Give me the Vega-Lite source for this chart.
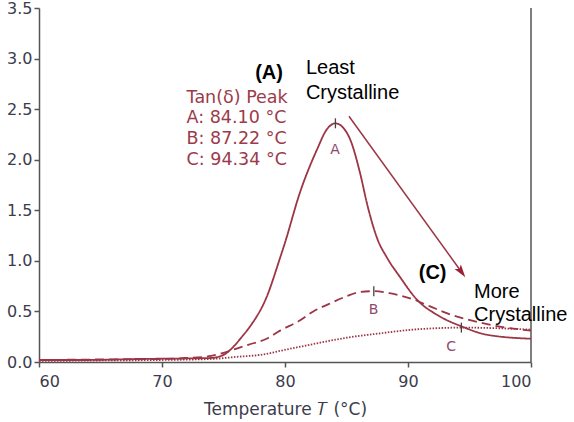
{
  "$schema": "https://vega.github.io/schema/vega-lite/v6.json",
  "width": 492,
  "height": 354,
  "autosize": {"type": "none"},
  "padding": {"left": 39, "top": 8, "right": 43, "bottom": 60},
  "background": "white",
  "config": {
    "view": {"stroke": null},
    "axis": {
      "grid": false,
      "domainColor": "#555555",
      "domainWidth": 1.5,
      "tickColor": "#555555",
      "tickWidth": 1.5,
      "tickSize": 5,
      "labelColor": "#3c3c4c",
      "labelFont": "DejaVu Sans",
      "labelFontSize": 16,
      "titleColor": "#3c3c4c",
      "titleFont": "DejaVu Sans",
      "titleFontSize": 17,
      "titleFontWeight": "normal"
    }
  },
  "datasets": {
    "curves": [
      {"T": 60, "v": 0.02, "s": "A"}, {"T": 64, "v": 0.02, "s": "A"}, {"T": 68, "v": 0.03, "s": "A"},
      {"T": 72, "v": 0.035, "s": "A"}, {"T": 74, "v": 0.04, "s": "A"}, {"T": 75, "v": 0.07, "s": "A"},
      {"T": 75.8, "v": 0.15, "s": "A"}, {"T": 76.5, "v": 0.25, "s": "A"}, {"T": 77.15, "v": 0.35, "s": "A"},
      {"T": 78.5, "v": 0.64, "s": "A"}, {"T": 79.6, "v": 1.03, "s": "A"}, {"T": 80.0, "v": 1.18, "s": "A"},
      {"T": 81.2, "v": 1.67, "s": "A"}, {"T": 82.6, "v": 2.10, "s": "A"}, {"T": 83.4, "v": 2.30, "s": "A"},
      {"T": 84.1, "v": 2.36, "s": "A"}, {"T": 84.7, "v": 2.32, "s": "A"}, {"T": 85.3, "v": 2.20, "s": "A"},
      {"T": 86.1, "v": 1.87, "s": "A"}, {"T": 86.7, "v": 1.55, "s": "A"}, {"T": 87.5, "v": 1.22, "s": "A"},
      {"T": 88.3, "v": 1.03, "s": "A"}, {"T": 89.35, "v": 0.84, "s": "A"}, {"T": 90.7, "v": 0.62, "s": "A"},
      {"T": 92.6, "v": 0.45, "s": "A"}, {"T": 94.4, "v": 0.35, "s": "A"}, {"T": 96.4, "v": 0.27, "s": "A"},
      {"T": 100, "v": 0.23, "s": "A"},
      {"T": 60, "v": 0.02, "s": "B"}, {"T": 65, "v": 0.025, "s": "B"}, {"T": 70, "v": 0.03, "s": "B"},
      {"T": 72, "v": 0.04, "s": "B"}, {"T": 74, "v": 0.06, "s": "B"}, {"T": 74.7, "v": 0.08, "s": "B"},
      {"T": 76, "v": 0.13, "s": "B"}, {"T": 77, "v": 0.17, "s": "B"}, {"T": 78.5, "v": 0.23, "s": "B"},
      {"T": 79.6, "v": 0.31, "s": "B"}, {"T": 81.2, "v": 0.41, "s": "B"}, {"T": 82.3, "v": 0.50, "s": "B"},
      {"T": 83.5, "v": 0.57, "s": "B"}, {"T": 85.0, "v": 0.65, "s": "B"}, {"T": 86, "v": 0.69, "s": "B"},
      {"T": 87.22, "v": 0.70, "s": "B"}, {"T": 88.5, "v": 0.68, "s": "B"}, {"T": 90.4, "v": 0.62, "s": "B"},
      {"T": 91.8, "v": 0.55, "s": "B"}, {"T": 93.2, "v": 0.48, "s": "B"}, {"T": 95.85, "v": 0.39, "s": "B"},
      {"T": 98, "v": 0.34, "s": "B"}, {"T": 100, "v": 0.31, "s": "B"},
      {"T": 60, "v": 0.01, "s": "C"}, {"T": 65, "v": 0.015, "s": "C"}, {"T": 70, "v": 0.02, "s": "C"},
      {"T": 74, "v": 0.03, "s": "C"}, {"T": 76, "v": 0.05, "s": "C"}, {"T": 78.5, "v": 0.08, "s": "C"},
      {"T": 79.6, "v": 0.11, "s": "C"}, {"T": 82, "v": 0.17, "s": "C"}, {"T": 85.0, "v": 0.24, "s": "C"},
      {"T": 87.5, "v": 0.28, "s": "C"}, {"T": 90.4, "v": 0.32, "s": "C"}, {"T": 92.5, "v": 0.335, "s": "C"},
      {"T": 94.34, "v": 0.34, "s": "C"}, {"T": 97, "v": 0.335, "s": "C"}, {"T": 100, "v": 0.32, "s": "C"}
    ],
    "peaks": [
      {"T": 84.1, "v": 2.36}, {"T": 87.22, "v": 0.70}, {"T": 94.34, "v": 0.34}
    ],
    "curveLabels": [
      {"T": 84.07, "v": 2.10, "text": "A"}, {"T": 87.2, "v": 0.51, "text": "B"}, {"T": 93.5, "v": 0.15, "text": "C"}
    ],
    "legendText": [
      {"T": 72.0, "v": 2.61, "text": "Tan(δ) Peak"},
      {"T": 72.0, "v": 2.41, "text": "A: 84.10 °C"},
      {"T": 72.0, "v": 2.20, "text": "B: 87.22 °C"},
      {"T": 72.0, "v": 2.00, "text": "C: 94.34 °C"}
    ],
    "boldText": [
      {"T": 78.7, "v": 2.86, "text": "(A)"}, {"T": 92.0, "v": 0.88, "text": "(C)"}
    ],
    "plainText": [
      {"T": 81.7, "v": 2.91, "text": "Least"}, {"T": 81.7, "v": 2.66, "text": "Crystalline"},
      {"T": 95.37, "v": 0.69, "text": "More"}, {"T": 95.37, "v": 0.46, "text": "Crystalline"}
    ],
    "arrow": [
      {"T": 85.2, "v": 2.43}, {"T": 94.35, "v": 0.89}
    ],
    "arrowHead": [
      {"T": 94.35, "v": 0.89}
    ],
    "border": [{"T": 100}]
  },
  "layer": [
    {
      "data": {"name": "border"},
      "mark": {"type": "rule", "color": "#555555", "strokeWidth": 1.5},
      "encoding": {
        "x": {"field": "T", "type": "quantitative", "scale": {"domain": [60, 100]}}
      }
    },
    {
      "data": {"name": "curves"},
      "mark": {"type": "line", "interpolate": "monotone", "color": "#9c3545", "strokeWidth": 1.8},
      "encoding": {
        "x": {
          "field": "T", "type": "quantitative",
          "scale": {"domain": [60, 100], "nice": false},
          "axis": {"values": [60, 70, 80, 90, 100], "title": "Temperature 𝑇 (°C)", "labelPadding": 6, "titlePadding": 12}
        },
        "y": {
          "field": "v", "type": "quantitative",
          "scale": {"domain": [0, 3.5], "nice": false},
          "axis": {"values": [0, 0.5, 1, 1.5, 2, 2.5, 3, 3.5], "format": ".1f", "title": null, "labelPadding": 2}
        },
        "detail": {"field": "s"},
        "strokeDash": {
          "field": "s", "type": "nominal",
          "scale": {"domain": ["A", "B", "C"], "range": [[1, 0], [9, 5], [1.5, 1.5]]},
          "legend": null
        }
      }
    },
    {
      "data": {"name": "peaks"},
      "mark": {"type": "point", "shape": "M0,-1L0,1", "size": 100, "filled": false, "stroke": "#444444", "strokeWidth": 1.3, "opacity": 1},
      "encoding": {
        "x": {"field": "T", "type": "quantitative"},
        "y": {"field": "v", "type": "quantitative"}
      }
    },
    {
      "data": {"name": "arrow"},
      "mark": {"type": "line", "color": "#9c3545", "strokeWidth": 1.5},
      "encoding": {
        "x": {"field": "T", "type": "quantitative"},
        "y": {"field": "v", "type": "quantitative"}
      }
    },
    {
      "data": {"name": "arrowHead"},
      "mark": {"type": "point", "shape": "M0,-1L0.6,1L0,0.55L-0.6,1Z", "size": 170, "filled": true, "color": "#9c2035", "opacity": 1, "angle": 144},
      "encoding": {
        "x": {"field": "T", "type": "quantitative"},
        "y": {"field": "v", "type": "quantitative"}
      }
    },
    {
      "data": {"name": "curveLabels"},
      "mark": {"type": "text", "font": "DejaVu Sans", "fontSize": 14, "color": "#8e4a6e", "align": "center", "baseline": "middle"},
      "encoding": {
        "x": {"field": "T", "type": "quantitative"},
        "y": {"field": "v", "type": "quantitative"},
        "text": {"field": "text"}
      }
    },
    {
      "data": {"name": "legendText"},
      "mark": {"type": "text", "font": "DejaVu Sans", "fontSize": 17.5, "color": "#9b3b4b", "align": "left", "baseline": "middle"},
      "encoding": {
        "x": {"field": "T", "type": "quantitative"},
        "y": {"field": "v", "type": "quantitative"},
        "text": {"field": "text"}
      }
    },
    {
      "data": {"name": "boldText"},
      "mark": {"type": "text", "font": "Liberation Sans", "fontSize": 20, "fontWeight": "bold", "color": "#000000", "align": "center", "baseline": "middle"},
      "encoding": {
        "x": {"field": "T", "type": "quantitative"},
        "y": {"field": "v", "type": "quantitative"},
        "text": {"field": "text"}
      }
    },
    {
      "data": {"name": "plainText"},
      "mark": {"type": "text", "font": "Liberation Sans", "fontSize": 20, "color": "#000000", "align": "left", "baseline": "middle"},
      "encoding": {
        "x": {"field": "T", "type": "quantitative"},
        "y": {"field": "v", "type": "quantitative"},
        "text": {"field": "text"}
      }
    }
  ]
}
